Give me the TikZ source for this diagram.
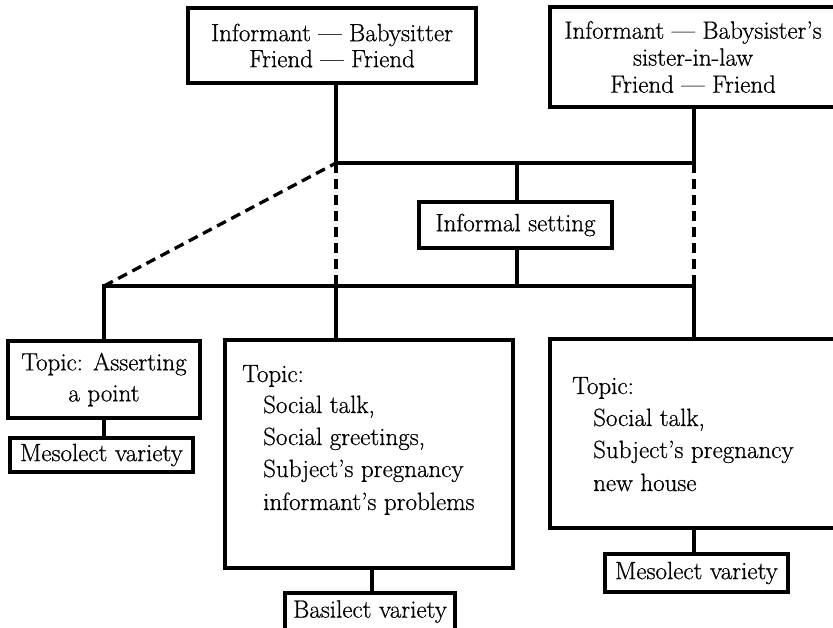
\documentclass[tikz,border=0pt]{standalone}
\usepackage{fontspec}
\setmainfont{Latin Modern Roman}[FakeBold=0.6]
\begin{document}
\begin{tikzpicture}[x=1pt,y=-1pt,
  every node/.style={font=\fontsize{25}{28}\selectfont},
  box/.style={draw,line width=3.3pt,rectangle,inner sep=0pt,align=center},
  txt/.style={anchor=base west,inner sep=0pt},
  link/.style={line width=3.3pt},
  dlink/.style={line width=3.3pt,dash pattern=on 10pt off 6pt}]
\clip (0,0) rectangle (833,627);
\fill[white] (0,0) rectangle (833,627);

% upper participant boxes
\node[box,minimum width=288pt,minimum height=75pt] (A) at (332,45.5)
  {Informant --- Babysitter\\[-2pt] Friend --- Friend};
\node[box,minimum width=286pt,minimum height=100pt] (B) at (693,57)
  {Informant --- Babysister's\\[-1pt] sister-in-law\\[-1pt] Friend --- Friend};

% setting
\node[box,minimum width=193pt,minimum height=46pt] (Inf) at (515.5,225) {Informal setting};

% topic boxes
\node[box,minimum width=192pt,minimum height=77pt] (D) at (104,379.5)
  {Topic: Asserting\\[3pt] a point};
\node[box,minimum width=288pt,minimum height=228pt] (C) at (369,454) {};
\node[box,minimum width=300pt,minimum height=189pt] (E) at (700,433.5) {};

\node[txt] (c1) at (242,382) {Topic:};
\node[txt] (c2) at (263,413) {Social talk,};
\node[txt] (c3) at (263,445) {Social greetings,};
\node[txt] (c4) at (263,477) {Subject's pregnancy};
\node[txt] (c5) at (263,510) {informant's problems};

\node[txt] (e1) at (572,394) {Topic:};
\node[txt] (e2) at (593,426) {Social talk,};
\node[txt] (e3) at (593,458) {Subject's pregnancy};
\node[txt] (e4) at (593,491) {new house};

% varieties
\node[box,minimum width=183pt,minimum height=34pt] (MA) at (101.5,455) {Mesolect variety};
\node[box,minimum width=170pt,minimum height=37pt] (Bas) at (370,611.5) {Basilect variety};
\node[box,minimum width=183pt,minimum height=38pt] (MB) at (696.5,573) {Mesolect variety};

% junction points
\coordinate (j1) at (336,163);
\coordinate (m1) at (517,163);
\coordinate (j2) at (694,163);
\coordinate (j3) at (104,286);
\coordinate (k)  at (336,286);
\coordinate (m2) at (517,286);
\coordinate (j4) at (694,286);
\coordinate (cb) at (372,0);

% solid connectors
\draw[link] (j1 |- A.south) -- (j1) -- (j2) -- (j2 |- B.south);
\draw[link] (m1) -- (m1 |- Inf.north);
\draw[link] (m1 |- Inf.south) -- (m2);
\draw[link] (D.north) -- (j3) -- (j4) -- (j4 |- E.north);
\draw[link] (k) -- (k |- C.north);
\draw[link] (D.south) -- (D.south |- MA.north);
\draw[link] (cb |- C.south) -- (cb |- Bas.north);
\draw[link] (j4 |- E.south) -- (j4 |- MB.north);

% dashed connectors
\draw[dlink] (j3) -- (j1);
\draw[dlink] (j1) -- (k);
\draw[dlink] (j2) -- (j4);
\end{tikzpicture}
\end{document}
